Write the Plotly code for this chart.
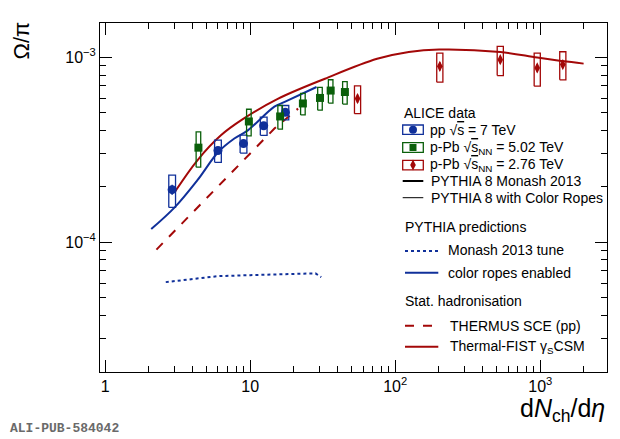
import plotly.graph_objects as go

# ----------------------------
# Data
# ----------------------------
# ALICE pp 7 TeV
pp_x = [2.9, 6.0, 9.0, 12.4, 17.5]
pp_y = [1.92e-4, 3.13e-4, 3.41e-4, 4.26e-4, 5.03e-4]
pp_stat = [1.2e-5, 1.3e-5, 1.1e-5, 1.3e-5, 1.4e-5]
pp_sys = [3.8e-5, 4.3e-5, 3.8e-5, 4.8e-5, 4.5e-5]

# ALICE p-Pb 5.02 TeV
ppb_x = [4.4, 9.8, 16.1, 23.1, 30.3, 35.9, 45.0]
ppb_y = [3.24e-4, 4.49e-4, 4.78e-4, 5.62e-4, 6.02e-4, 6.6e-4, 6.48e-4]
ppb_stat = [1.2e-5, 1.2e-5, 1.2e-5, 1.3e-5, 1.4e-5, 1.5e-5, 1.5e-5]
ppb_sys = [7.0e-5, 7.4e-5, 7.0e-5, 7.5e-5, 8.5e-5, 9.5e-5, 9.0e-5]

# ALICE Pb-Pb 2.76 TeV (labelled p-Pb in the legend)
pbpb_x = [55, 203, 530, 953, 1430]
pbpb_y = [5.97e-4, 8.93e-4, 9.70e-4, 8.75e-4, 9.12e-4]
pbpb_stat = [3.0e-5, 4.5e-5, 4.5e-5, 4.5e-5, 4.0e-5]
pbpb_sys = [1.02e-4, 1.6e-4, 1.75e-4, 1.78e-4, 1.58e-4]

# PYTHIA 8 Monash 2013
monash_x = [2.62, 4.0, 6.0, 10, 20, 24, 28.2, 30.9]
monash_y = [6.07e-5, 6.33e-5, 6.54e-5, 6.62e-5, 6.71e-5, 6.79e-5, 6.77e-5, 6.46e-5]

# PYTHIA 8 colour ropes
ropes_x = [2.08, 3.03, 4.33, 6.03, 7.78, 9.64, 14.7, 17.3, 28.7]
ropes_y = [1.175e-4, 1.545e-4, 2.16e-4, 3.07e-4, 3.63e-4, 4.02e-4, 5.4e-4, 5.73e-4, 6.9e-4]

# THERMUS SCE (pp)
thermus_x = [2.26, 4.57, 9.38, 14.7, 21.4]
thermus_y = [9.1e-5, 1.61e-4, 2.88e-4, 4.11e-4, 5.27e-4]

# Thermal-FIST gamma_s CSM
fist_x = [3.03, 4.33, 6.29, 8.9, 15.5, 32.8, 75, 124, 201, 530, 953, 1422, 1990]
fist_y = [1.87e-4, 2.77e-4, 3.78e-4, 4.62e-4, 5.95e-4, 7.65e-4, 9.8e-4, 1.067e-3,
          1.10e-3, 1.067e-3, 9.95e-4, 9.53e-4, 9.23e-4]

# axis ticks
x_major = [1, 10, 100, 1000]
x_major_text = ["1", "10", "10<sup>2</sup>", "10<sup>3</sup>"]
x_minor = [2, 3, 4, 5, 6, 7, 8, 9, 20, 30, 40, 50, 60, 70, 80, 90,
           200, 300, 400, 500, 600, 700, 800, 900, 2000]
y_major = [1e-4, 1e-3]
y_major_text = ["10<sup>\u22124</sup>", "10<sup>\u22123</sup>"]
y_minor = [2e-5, 3e-5, 4e-5, 5e-5, 6e-5, 7e-5, 8e-5, 9e-5,
           2e-4, 3e-4, 4e-4, 5e-4, 6e-4, 7e-4, 8e-4, 9e-4]

BLUE = "#10309a"
GREEN = "#0a5f0a"
RED = "#a30808"
FONT = "Liberation Sans, Arial, sans-serif"

# the page body adds an 8px offset, so the figure is laid out 8px smaller
OFF = 8
PL, PT, PW, PH = 100, 23, 507, 349   # plot area in page pixels


def sys_boxes(xs, ys, errs, half_w):
    # open rectangles for systematic uncertainties (half width as log factor)
    bx, by = [], []
    for x, y, e in zip(xs, ys, errs):
        x0, x1 = x / half_w, x * half_w
        bx += [x0, x1, x1, x0, x0, None]
        by += [y - e, y - e, y + e, y + e, y - e, None]
    return bx, by


def px2paper(px, py):
    return (px - PL) / PW, (PT + PH - py) / PH


fig = go.Figure()

# ---- model curves
fig.add_trace(go.Scatter(x=monash_x, y=monash_y, mode="lines",
                         line=dict(color=BLUE, width=2, dash="dot")))
fig.add_trace(go.Scatter(x=ropes_x, y=ropes_y, mode="lines", line_shape="spline",
                         line=dict(color=BLUE, width=2)))
fig.add_trace(go.Scatter(x=thermus_x, y=thermus_y, mode="lines",
                         line=dict(color=RED, width=2, dash="dash")))
fig.add_trace(go.Scatter(x=fist_x, y=fist_y, mode="lines", line_shape="spline",
                         line=dict(color=RED, width=2)))

# ---- data: systematic boxes + points with stat errors
for xs, ys, st, sy, col, sym, size, hw in [
    (pp_x, pp_y, pp_stat, pp_sys, BLUE, "circle", 9, 1.055),
    (ppb_x, ppb_y, ppb_stat, ppb_sys, GREEN, "square", 8, 1.037),
    (pbpb_x, pbpb_y, pbpb_stat, pbpb_sys, RED, "diamond-tall", 8, 1.05),
]:
    bx, by = sys_boxes(xs, ys, sy, hw)
    fig.add_trace(go.Scatter(x=bx, y=by, mode="lines", line=dict(color=col, width=1.3)))
    fig.add_trace(go.Scatter(x=xs, y=ys, mode="markers",
                             marker=dict(color=col, symbol=sym, size=size),
                             error_y=dict(type="data", array=st, color=col, thickness=1.5, width=0)))

# ---- legend samples (overlay axes spanning the plot area)
leg_markers = [(413, 129.7, BLUE, "circle", 8), (413, 147.5, GREEN, "square", 7),
               (413, 165, RED, "diamond-tall", 8)]
for px, py, col, sym, size in leg_markers:
    lx, ly = px2paper(px, py)
    fig.add_trace(go.Scatter(x=[lx], y=[ly], mode="markers", xaxis="x2", yaxis="y2",
                             marker=dict(color=col, symbol=sym, size=size)))

shapes = []
for y0, y1, col in [(125, 134.3, BLUE), (142.7, 152.3, GREEN), (160.3, 169.8, RED)]:
    x0p, y0p = px2paper(402.7, y1)
    x1p, y1p = px2paper(423.3, y0)
    shapes.append(dict(type="rect", xref="paper", yref="paper", x0=x0p, x1=x1p,
                       y0=y0p, y1=y1p, line=dict(color=col, width=1.3)))
for x0, x1, py, col, w, dash in [
    (402.7, 423.3, 181, "black", 2, "solid"),
    (402.7, 423.3, 197.7, "black", 1, "solid"),
    (405, 438.3, 251, BLUE, 2, "dot"),
    (405, 438.3, 272.7, BLUE, 2, "solid"),
    (405, 438.3, 325.7, RED, 2, "dash"),
    (405, 438.3, 346.7, RED, 2, "solid"),
]:
    a, b = px2paper(x0, py)
    c, _ = px2paper(x1, py)
    shapes.append(dict(type="line", xref="paper", yref="paper", x0=a, x1=c, y0=b, y1=b,
                       line=dict(color=col, width=w, dash=dash)))

ov = "√<span style='text-decoration:overline'>s</span>"
leg_texts = [
    (401.7, 113.3, "ALICE data"),
    (428.3, 129.7, f"pp {ov} = 7 TeV"),
    (428.3, 147.5, f"p-Pb {ov}<sub>NN</sub> = 5.02 TeV"),
    (428.3, 165, f"p-Pb {ov}<sub>NN</sub> = 2.76 TeV"),
    (429, 181, "PYTHIA 8 Monash 2013"),
    (429, 197.7, "PYTHIA 8 with Color Ropes"),
    (403.3, 227.3, "PYTHIA predictions"),
    (445.7, 250, "Monash 2013 tune"),
    (445.7, 272.7, "color ropes enabled"),
    (403.3, 300.7, "Stat. hadronisation"),
    (447.7, 325.7, "THERMUS SCE (pp)"),
    (447.7, 346.7, "Thermal-FIST γ<sub>S</sub>CSM"),
]
annotations = []
for px, py, t in leg_texts:
    xp, yp = px2paper(px, py)
    annotations.append(dict(x=xp, y=yp, xref="paper", yref="paper", text=t, showarrow=False,
                            xanchor="left", yanchor="middle",
                            font=dict(family=FONT, size=14, color="black")))

# axis titles and watermark
tx, ty = px2paper(607, 410)
annotations.append(dict(x=tx, y=ty, xref="paper", yref="paper",
                        text="d<i>N</i><sub>ch</sub>/d<i>η</i>", showarrow=False,
                        xanchor="right", yanchor="middle",
                        font=dict(family=FONT, size=25, color="black")))
tx, ty = px2paper(20.5, 41)
annotations.append(dict(x=tx, y=ty, xref="paper", yref="paper",
                        text="Ω/π", showarrow=False, textangle=-90,
                        xanchor="center", yanchor="middle",
                        font=dict(family=FONT, size=22, color="black")))
tx, ty = px2paper(OFF, 429)
annotations.append(dict(x=tx, y=ty, xref="paper", yref="paper",
                        text="<b>ALI-PUB-584042</b>", showarrow=False,
                        xanchor="left", yanchor="middle",
                        font=dict(family="Liberation Mono, Courier New, monospace",
                                  size=13, color="#6a6a6a")))

axis_common = dict(showgrid=False, zeroline=False, showline=True, linecolor="black",
                   linewidth=1, mirror="allticks", ticks="inside", ticklen=12,
                   tickcolor="black", tickwidth=1,
                   tickfont=dict(family=FONT, size=16, color="black"))

W, H = 620 - OFF, 439 - OFF
fig.update_layout(
    width=W, height=H,
    margin=dict(l=PL - OFF, r=W - (PL - OFF) - PW, t=PT - OFF, b=H - (PT - OFF) - PH),
    paper_bgcolor="white", plot_bgcolor="white",
    xaxis=dict(type="log", range=[-0.035, 3.46], tickmode="array",
               tickvals=x_major, ticktext=x_major_text,
               minor=dict(tickmode="array", tickvals=x_minor, ticks="inside", ticklen=6,
                          tickcolor="black", tickwidth=1),
               **axis_common),
    yaxis=dict(type="log", range=[-4.703, -2.815], tickmode="array",
               tickvals=y_major, ticktext=y_major_text,
               minor=dict(tickmode="array", tickvals=y_minor, ticks="inside", ticklen=6,
                          tickcolor="black", tickwidth=1),
               **axis_common),
    xaxis2=dict(overlaying="x", range=[0, 1], visible=False, fixedrange=True),
    yaxis2=dict(overlaying="y", range=[0, 1], visible=False, fixedrange=True),
    shapes=shapes,
    annotations=annotations,
    showlegend=False,
)

fig.write_html("out.html")
